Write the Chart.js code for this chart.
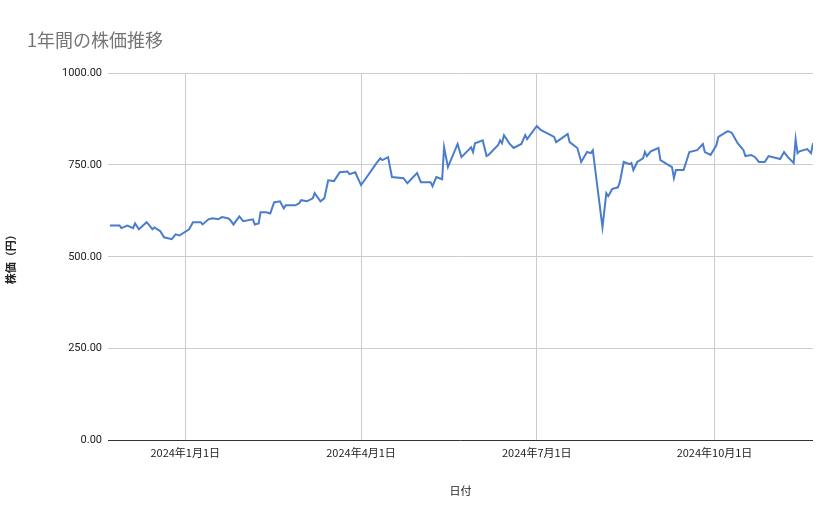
<!DOCTYPE html>
<html><head><meta charset="utf-8">
<script src="https://cdn.jsdelivr.net/npm/chart.js@4/dist/chart.umd.min.js"></script>
<style>
body{margin:0;background:#fff;font-family:Roboto,"Noto Sans CJK JP",sans-serif}
#wrap{position:relative;width:839px;height:519px}
#title{position:absolute;left:27px;top:26px;font-size:18px;color:#757575;font-family:"Noto Sans CJK JP",sans-serif}
</style></head><body>
<div id="wrap"><div id="title">1年間の株価推移</div><canvas id="c" width="839" height="519"></canvas></div>
<script>
// days since 2024-01-01
const days = [-39,-34,-33,-30,-27,-26,-24,-20,-19,-17,-16,-13,-11,-7,-5,-3,2,4,8,9,12,14,17,19,22,23,25,28,30,35,36,38,39,42,44,46,49,51,52,57,59,60,63,66,67,70,72,74,77,80,84,85,
88,91,94,99,101,102,105,107,113,115,120,122,127,128,130,133,134,136,141,143,148,149,150,154,156,157,162,163,164,165,168,170,174,176,177,182,184,187,191,192,195,198,
199,203,205,208,210,211,216,218,219,221,224,225,227,230,231,232,234,237,238,239,241,245,246,252,253,254,258,261,265,268,269,272,275,276,280,281,283,286,289,290,293,295,297,300,302,308,310,312,315,316,317,318,322,324,325];
const prices = [585,585,578,585,578,591,575,594,588,575,580,570,553,548,561,558,575,594,594,588,602,605,602,608,605,602,588,610,597,602,588,591,621,621,618,648,651,632,640,640,646,654,651,659,673,651,659,708,706,730,732,725,
730,695,717,755,768,763,771,717,714,700,728,703,703,692,717,711,798,744,807,771,798,785,809,817,774,777,804,817,809,831,807,796,807,831,820,856,845,837,826,812,823,834,
812,796,758,785,782,790,580,673,665,684,689,703,758,752,755,736,758,768,785,774,787,796,763,744,714,736,736,785,790,807,785,777,804,826,839,842,837,809,790,774,777,771,758,758,774,766,785,771,755,820,782,787,793,782,809];
const xTicks = [0,91,182,274];
const xTickLabels = ['2024年1月1日','2024年4月1日','2024年7月1日','2024年10月1日'];
const yTicks = [0,250,500,750,1000];

const pts = days.map((d,i)=>({x:d,y:prices[i]}));
new Chart(document.getElementById('c'),{
  type:'line',
  data:{datasets:[{data:pts,borderColor:'#4a7dcc',borderWidth:2,pointRadius:0,tension:0}]},
  options:{
    responsive:false,animation:false,
    layout:{padding:{top:73,right:26,bottom:18,left:0}},
    plugins:{legend:{display:false},tooltip:{enabled:false}},
    scales:{
      x:{type:'linear',min:-40,max:325,
        afterBuildTicks:a=>{a.ticks=xTicks.map(v=>({value:v}));},
        ticks:{autoSkip:false,maxRotation:0,color:'#222',font:{size:11,family:'"Noto Sans CJK JP"'},padding:6,
          callback:(v)=>{const i=xTicks.indexOf(v);return i>=0?xTickLabels[i]:'';}},
        grid:{color:'#cccccc',drawTicks:false},border:{display:false},
        title:{display:true,text:'日付',color:'#222',font:{size:11,family:'"Noto Sans CJK JP"'},padding:{top:18}}},
      y:{min:0,max:1000,
        afterBuildTicks:a=>{a.ticks=yTicks.map(v=>({value:v}));},
        afterFit:a=>{a.width=108;},
        ticks:{color:'#222',font:{size:11,family:'Roboto'},padding:6,callback:v=>Number(v).toFixed(2)},
        grid:{color:c=>c.tick&&c.tick.value===0?'#333':'#cccccc',drawTicks:false},border:{display:false},
        title:{display:true,text:'株価（円）',color:'#222',font:{size:11,weight:'bold',family:'"Noto Sans CJK JP"'},padding:{bottom:4}}}
    }
  }
});
</script></body></html>
